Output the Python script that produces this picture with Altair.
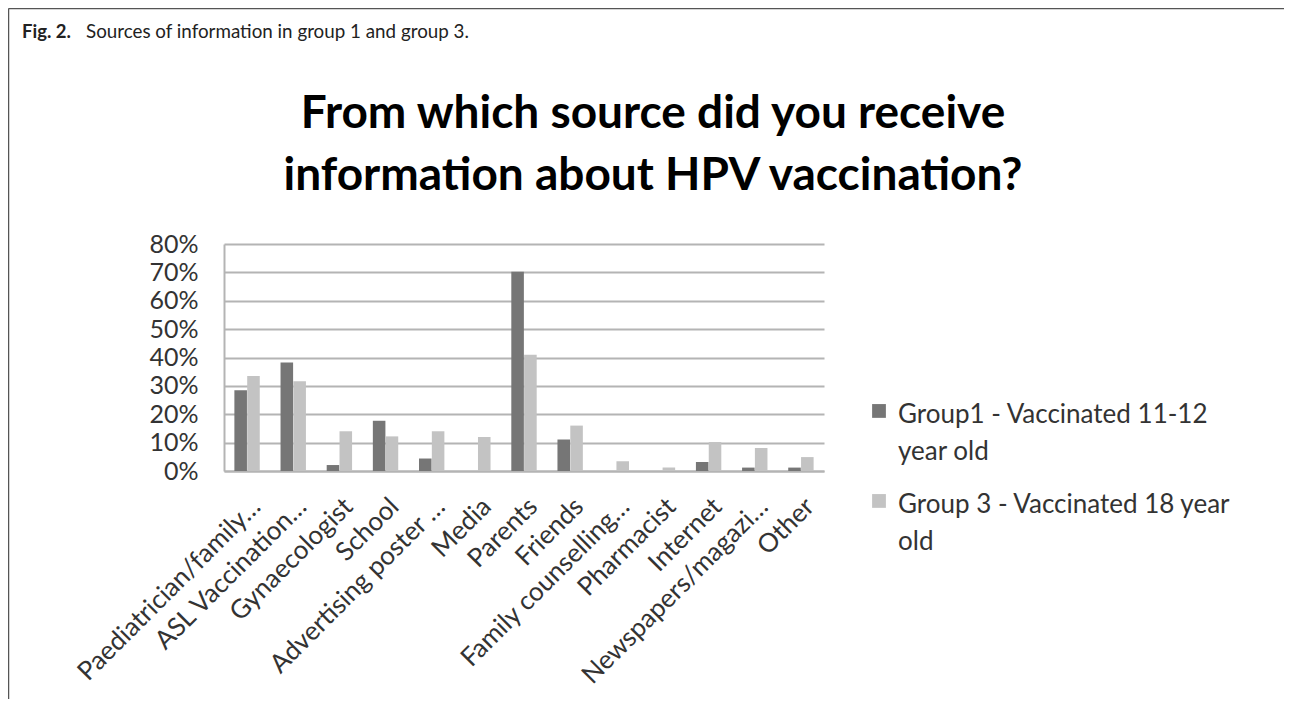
import altair as alt
import pandas as pd

categories = [
    "Paediatrician/family…", "ASL Vaccination…", "Gynaecologist", "School",
    "Advertising poster …", "Media", "Parents", "Friends",
    "Family counselling…", "Pharmacist", "Internet", "Newspapers/magazi…", "Other",
]
group1 = [28.5, 38.2, 2.1, 17.7, 4.4, 0.0, 70.2, 11.1, 0.0, 0.0, 3.2, 1.2, 1.2]
group3 = [33.5, 31.6, 14.0, 12.2, 14.0, 12.0, 41.0, 16.0, 3.4, 1.2, 10.2, 8.1, 4.9]
series = ["Group1 - Vaccinated 11-12 year old", "Group 3 - Vaccinated 18 year old"]
legend_lines = [["Group1 - Vaccinated 11-12", "year old"], ["Group 3 - Vaccinated 18 year", "old"]]
colors = ["#767676", "#c3c3c3"]
y_ticks = [0, 0.1, 0.2, 0.3, 0.4, 0.5, 0.6, 0.7, 0.8]
title_lines = ["From which source did you receive", "information about HPV vaccination?"]
caption_bold = "Fig. 2."
caption_rest = "Sources of information in group 1 and group 3."

rows = []
for i, c in enumerate(categories):
    rows.append({"source": c, "group": series[0], "value": group1[i] / 100})
    rows.append({"source": c, "group": series[1], "value": group3[i] / 100})
df = pd.DataFrame(rows)

label_expr = (
    f"datum.label == '{series[0]}' ? ['{legend_lines[0][0]}', '{legend_lines[0][1]}'] : "
    f"['{legend_lines[1][0]}', '{legend_lines[1][1]}']"
)

FONT = "Lato"
# square symbol drawn slightly lower than its anchor so it sits beside the first label line
SQUARE_LOW = "M-1,0.3L1,0.3L1,2.3L-1,2.3Z"

bars = alt.Chart(df).mark_bar().encode(
    x=alt.X("source:N", sort=categories,
            scale=alt.Scale(paddingInner=0.45, paddingOuter=0.225),
            axis=alt.Axis(title=None, labelAngle=-45, labelAlign="right", labelBaseline="top",
                          labelPadding=22, labelFontSize=26, labelFont=FONT, labelColor="#333333",
                          labelLimit=400, labelOverlap=False, ticks=False,
                          domainColor="#b4b4b4", domainWidth=2)),
    xOffset=alt.XOffset("group:N", sort=series, scale=alt.Scale(paddingInner=0.02)),
    y=alt.Y("value:Q", scale=alt.Scale(domain=[0, 0.8]),
            axis=alt.Axis(title=None, values=y_ticks, format=".0%", labelFontSize=25, labelFont=FONT,
                          labelColor="#333333", labelPadding=26, ticks=False,
                          domainColor="#b4b4b4", domainWidth=2,
                          gridColor="#b4b4b4", gridWidth=2)),
    color=alt.Color("group:N", sort=series, scale=alt.Scale(domain=series, range=colors),
                    legend=alt.Legend(title=None, orient="none", legendX=642, legendY=145,
                                      labelExpr=label_expr, labelFont=FONT, labelFontSize=26,
                                      labelColor="#333333", symbolType=SQUARE_LOW, symbolSize=190,
                                      symbolStrokeWidth=0, labelLimit=500, rowPadding=14,
                                      labelOffset=6, padding=0, labelBaseline="top")),
)

cap1 = alt.Chart(pd.DataFrame({"t": [caption_bold]})).mark_text(
    align="left", baseline="alphabetic", fontSize=18.5, font=FONT, fontWeight="bold",
    color="#222222").encode(text="t:N", x=alt.value(-202), y=alt.value(-206))
cap2 = alt.Chart(pd.DataFrame({"t": [caption_rest]})).mark_text(
    align="left", baseline="alphabetic", fontSize=18.8, font=FONT,
    color="#222222").encode(text="t:N", x=alt.value(-138), y=alt.value(-206))

title_txt = alt.Chart(pd.DataFrame({"t": ["\n".join(title_lines)]})).mark_text(
    align="center", baseline="alphabetic", fontSize=46, font=FONT, fontWeight="bold",
    color="#000000", lineBreak="\n", lineHeight=62).encode(
    text="t:N", x=alt.value(429), y=alt.value(-116))

frame_top = alt.Chart(pd.DataFrame({"k": [0]})).mark_rule(color="#555555", strokeWidth=1.5).encode(
    x=alt.value(-215.5), x2=alt.value(1080), y=alt.value(-235.5))
frame_left = alt.Chart(pd.DataFrame({"k": [0]})).mark_rule(color="#555555", strokeWidth=1.5).encode(
    x=alt.value(-215.5), y=alt.value(-235.5), y2=alt.value(460))

chart = alt.layer(frame_top, frame_left, cap1, cap2, title_txt, bars).properties(
    width=600, height=227,
    padding={"left": 216, "top": 236, "right": 460, "bottom": 228},
    autosize=alt.AutoSizeParams(type="none"),
).configure(style={"guide-label": {"lineHeight": 37}}).configure_view(strokeWidth=0)

chart.save("out.html", embed_options={"renderer": "svg", "actions": False})
